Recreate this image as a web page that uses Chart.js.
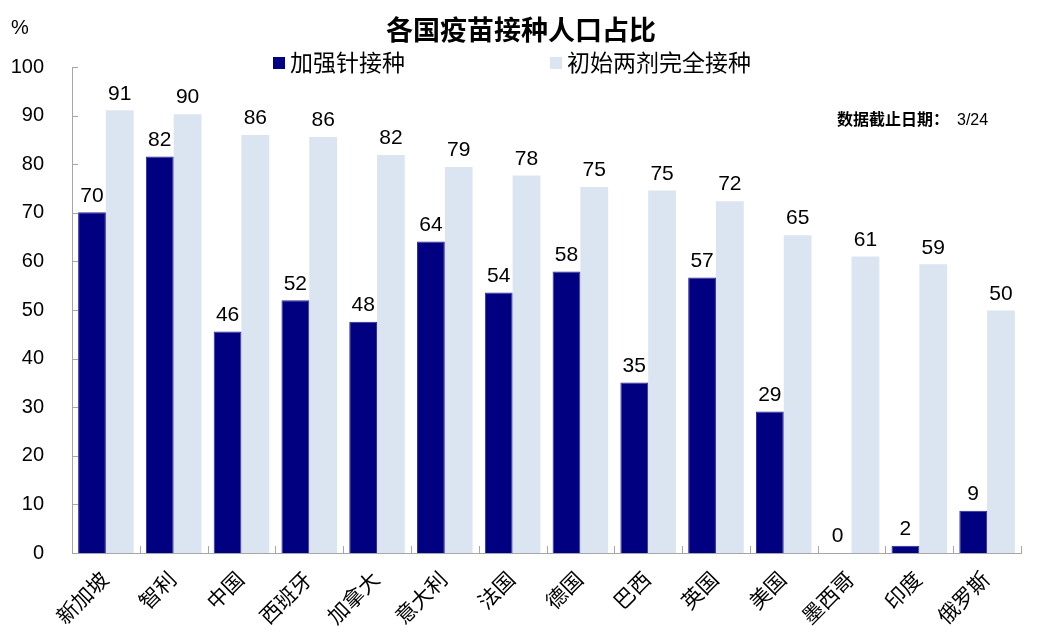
<!DOCTYPE html>
<html>
<head>
<meta charset="utf-8">
<script src="https://cdn.jsdelivr.net/npm/chart.js@4/dist/chart.umd.min.js"></script>
<style>
  html, body { margin: 0; padding: 0; background: #fff; }
  #wrap { width: 1044px; height: 642px; position: relative; }
</style>
</head>
<body>
<div id="wrap"><canvas id="chart"></canvas></div>
<script>
const FONT = "'Liberation Sans', 'Noto Sans CJK SC', sans-serif";

const countries = ['新加坡', '智利', '中国', '西班牙', '加拿大', '意大利', '法国', '德国', '巴西', '英国', '美国', '墨西哥', '印度', '俄罗斯'];
const booster = [70.1, 81.6, 45.6, 52.0, 47.6, 64.1, 53.6, 57.9, 35.1, 56.7, 29.1, 0, 1.5, 8.7];
const fullyVaccinated = [91.1, 90.3, 86.0, 85.6, 81.9, 79.4, 77.7, 75.3, 74.6, 72.4, 65.4, 61.0, 59.4, 49.9];
const seriesNames = ['加强针接种', '初始两剂完全接种'];
const chartTitle = '各国疫苗接种人口占比';
const unitLabel = '%';
const noteLabel = '数据截止日期：';
const noteDate = '3/24';

const AXIS = '#a6a6a6';

// ticks pointing into the plot, like the original
const inwardTicks = {
    id: 'inwardTicks',
    afterDraw(chart) {
        const { ctx, scales: { x, y }, chartArea } = chart;
        ctx.save();
        ctx.strokeStyle = AXIS;
        ctx.lineWidth = 1;
        ctx.beginPath();
        y.ticks.forEach((t) => {
            const py = Math.round(y.getPixelForValue(t.value)) + 0.5;
            ctx.moveTo(chartArea.left, py);
            ctx.lineTo(chartArea.left + 6, py);
        });
        for (let i = 0; i <= countries.length; i++) {
            const px = Math.round(x.getPixelForValue(i - 0.5)) + 0.5;
            ctx.moveTo(px, chartArea.bottom);
            ctx.lineTo(px, chartArea.bottom - 7);
        }
        ctx.stroke();
        ctx.restore();
    },
};

// value labels above every bar
const valueLabels = {
    id: 'valueLabels',
    afterDatasetsDraw(chart) {
        const { ctx } = chart;
        ctx.save();
        ctx.font = `21px ${FONT}`;
        ctx.fillStyle = '#000';
        ctx.textAlign = 'center';
        ctx.textBaseline = 'bottom';
        chart.data.datasets.forEach((ds, di) => {
            chart.getDatasetMeta(di).data.forEach((bar, i) => {
                ctx.fillText(String(Math.round(ds.data[i])), bar.x, bar.y - 6);
            });
        });
        ctx.restore();
    },
};

// title, legend, unit and date note
const header = {
    id: 'header',
    afterDraw(chart) {
        const { ctx } = chart;
        ctx.save();
        ctx.fillStyle = '#000';
        ctx.textBaseline = 'middle';

        ctx.textAlign = 'center';
        ctx.font = `bold 27px ${FONT}`;
        ctx.fillText(chartTitle, 521, 33);

        ctx.textAlign = 'left';
        ctx.font = `20px ${FONT}`;
        ctx.fillText(unitLabel, 11, 28);

        const legendX = [273, 550];
        ctx.font = `23px ${FONT}`;
        chart.data.datasets.forEach((ds, i) => {
            ctx.fillStyle = ds.backgroundColor;
            ctx.fillRect(legendX[i], 57, 12, 12);
            ctx.fillStyle = '#000';
            ctx.fillText(ds.label, legendX[i] + 17, 65);
        });

        ctx.font = `bold 16px ${FONT}`;
        ctx.fillText(noteLabel, 837, 121);
        const w = ctx.measureText(noteLabel).width;
        ctx.font = `16px ${FONT}`;
        ctx.fillText(noteDate, 837 + w + 8, 121);
        ctx.restore();
    },
};

new Chart(document.getElementById('chart'), {
    type: 'bar',
    data: {
        labels: countries,
        datasets: [
            {
                label: seriesNames[0],
                data: booster,
                backgroundColor: '#000080',
                borderColor: '#2a2a96',
                borderWidth: 1,
            },
            {
                label: seriesNames[1],
                data: fullyVaccinated,
                backgroundColor: '#dbe5f1',
                borderWidth: 0,
            },
        ],
    },
    options: {
        responsive: true,
        maintainAspectRatio: false,
        animation: false,
        datasets: {
            bar: { categoryPercentage: 0.82, barPercentage: 1 },
        },
        layout: { padding: { top: 67, right: 23, left: 0, bottom: 0 } },
        plugins: {
            legend: { display: false },
            title: { display: false },
            tooltip: { enabled: false },
        },
        scales: {
            x: {
                grid: { display: false, drawTicks: false },
                border: { color: AXIS, width: 1 },
                ticks: {
                    color: '#000',
                    font: { family: FONT, size: 21 },
                    minRotation: 45,
                    maxRotation: 45,
                    padding: 15,
                    autoSkip: false,
                },
                afterFit: (scale) => { scale.height = 89; },
            },
            y: {
                min: 0,
                max: 100,
                grid: { display: false, drawTicks: false },
                border: { color: AXIS, width: 1 },
                ticks: {
                    stepSize: 10,
                    color: '#000',
                    font: { family: FONT, size: 20 },
                    padding: 28,
                },
                afterFit: (scale) => { scale.width = 72; },
            },
        },
    },
    plugins: [inwardTicks, valueLabels, header],
});
</script>
</body>
</html>
